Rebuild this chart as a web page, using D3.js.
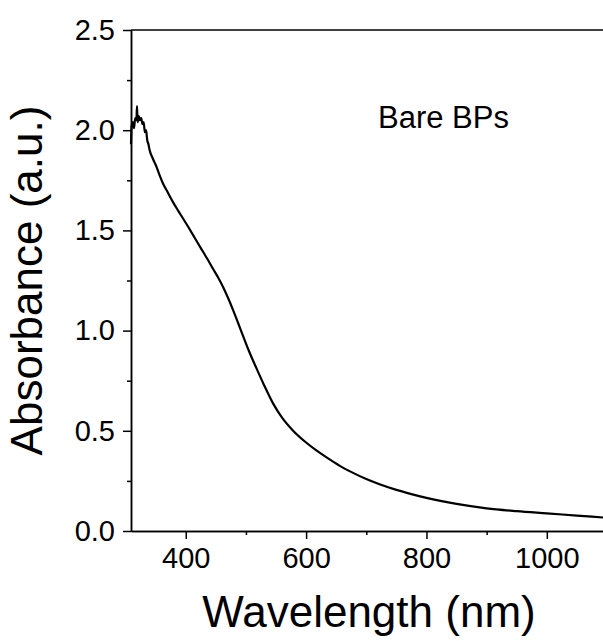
<html><head>
<script src="https://d3js.org/d3.v7.min.js"></script>
<style>
  body { margin: 0; background: #fff; }
  text { font-family: Arial, "Liberation Sans", sans-serif; fill: #000; }
  .axis .domain, .axis line { stroke: #000; stroke-width: 1.5; }
  .axis text { font-size: 29px; }
</style>
</head>
<body>
<svg id="chart" width="603" height="641"></svg>
<script>
// spectrum
const wavelength = [309,310,312,314,316,318,319,320,322,324,326,328,330,332,334,336,338,340,345,351,356,362,370,379,387,396,404,412,420,429,437,445,454,462,470,479,487,495,505,517,530,545,560,578,600,617,634,656,678,700,722,750,775,800,850,900,950,1000,1050,1100];
const absorbance = [1.93,2.02,2.04,2.01,2.06,2.05,2.12,2.04,2.07,2.05,2.06,2.03,2.04,1.99,2.00,1.95,1.93,1.90,1.86,1.82,1.78,1.735,1.69,1.64,1.60,1.557,1.518,1.478,1.437,1.392,1.352,1.31,1.264,1.218,1.165,1.10,1.038,0.975,0.898,0.815,0.729,0.637,0.566,0.502,0.4415,0.402,0.367,0.325,0.29,0.259,0.233,0.205,0.184,0.165,0.135,0.113,0.099,0.088,0.077,0.066];

const xMajor = [400,600,800,1000];
const xMinor = [500,700,900];
const yMajor = [0,0.5,1.0,1.5,2.0,2.5];
const yMinor = [0.25,0.75,1.25,1.75,2.25];

let svg = d3.select("svg#chart");
const mLeft = 131, mRight = 607, mTop = 30, mBottom = 531;

const xScale = d3.scaleLinear().domain([309,1100]).range([mLeft,mRight]);
const yScale = d3.scaleLinear().domain([0,2.5]).range([mBottom,mTop]);

// minor ticks first, then major axes on top
svg.append("g").attr("class","axis")
   .attr("transform","translate(0,"+mBottom+")")
   .call(d3.axisBottom(xScale).tickValues(xMinor).tickFormat("").tickSize(4).tickSizeOuter(0));
svg.append("g").attr("class","axis")
   .attr("transform","translate("+mLeft+",0)")
   .call(d3.axisLeft(yScale).tickValues(yMinor).tickFormat("").tickSize(4).tickSizeOuter(0));

svg.append("g").attr("class","axis")
   .attr("transform","translate(0,"+mBottom+")")
   .call(d3.axisBottom(xScale).tickValues(xMajor).tickFormat(d3.format("d")).tickSize(8).tickPadding(8).tickSizeOuter(0));
svg.append("g").attr("class","axis")
   .attr("transform","translate("+mLeft+",0)")
   .call(d3.axisLeft(yScale).tickValues(yMajor).tickFormat(d3.format(".1f")).tickSize(8).tickPadding(8).tickSizeOuter(0));

// top frame line
svg.append("line")
   .attr("x1",mLeft).attr("x2",mRight)
   .attr("y1",yScale(2.5)).attr("y2",yScale(2.5))
   .attr("stroke","#000").attr("stroke-width",1.5);

let line = d3.line()
   .x((d,i) => xScale(wavelength[i]))
   .y(d => yScale(d))
   .curve(d3.curveMonotoneX);

svg.append("path")
   .datum(absorbance)
   .attr("d",line)
   .attr("fill","none")
   .attr("stroke","#000")
   .attr("stroke-width",2.2)
   .attr("stroke-linejoin","round");

svg.append("text")
   .attr("x",378).attr("y",128)
   .style("font-size","31px")
   .text("Bare BPs");

svg.append("text")
   .attr("x",(mLeft+mRight)/2).attr("y",627)
   .attr("text-anchor","middle")
   .style("font-size","44px")
   .text("Wavelength (nm)");

svg.append("text")
   .attr("transform","translate(42,"+((mTop+mBottom)/2)+") rotate(-90)")
   .attr("text-anchor","middle")
   .style("font-size","44px")
   .text("Absorbance (a.u.)");
</script>
</body>
</html>
